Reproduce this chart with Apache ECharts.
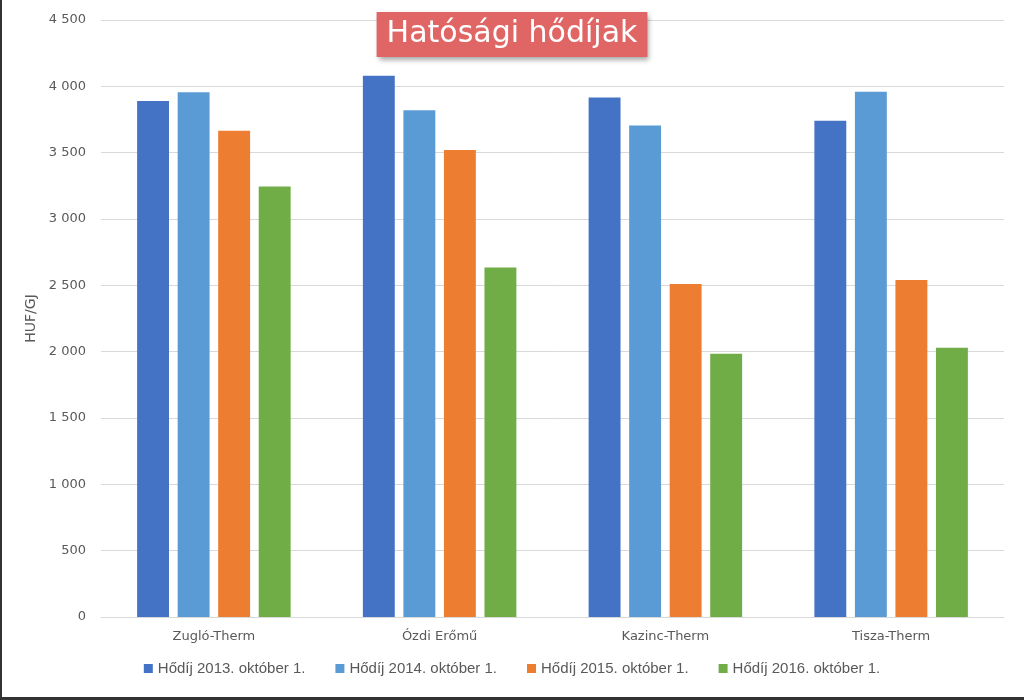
<!DOCTYPE html>
<html>
<head>
<meta charset="utf-8">
<script src="https://cdn.jsdelivr.net/npm/echarts@6/dist/echarts.min.js"></script>
<style>
html,body{margin:0;padding:0;background:#fff;}
#chart{width:1024px;height:700px;}
</style>
</head>
<body>
<div id="chart"></div>
<script>
const categories = ['Zugló-Therm', 'Ózdi Erőmű', 'Kazinc-Therm', 'Tisza-Therm'];
const seriesNames = ['Hődíj 2013. október 1.', 'Hődíj 2014. október 1.', 'Hődíj 2015. október 1.', 'Hődíj 2016. október 1.'];
const fee2013 = [3890, 4080, 3915, 3740];
const fee2014 = [3955, 3820, 3705, 3960];
const fee2015 = [3665, 3520, 2510, 2540];
const fee2016 = [3245, 2635, 1985, 2030];
const colors = ['#4472C4', '#5B9BD5', '#ED7D31', '#70AD47'];
const titleText = 'Hatósági hődíjak';
const yName = 'HUF/GJ';

const values = [fee2013, fee2014, fee2015, fee2016];
const chart = echarts.init(document.getElementById('chart'), null, {renderer: 'canvas'});
chart.setOption({
  backgroundColor: '#fff',
  animation: false,
  color: colors,
  title: {
    text: titleText,
    left: 'center',
    top: 12,
    padding: [7, 10, 8, 10],
    backgroundColor: '#E06666',
    shadowColor: 'rgba(0,0,0,0.35)',
    shadowBlur: 5,
    shadowOffsetX: 2,
    shadowOffsetY: 3,
    textStyle: {
      color: '#fff',
      fontFamily: 'DejaVu Sans',
      fontSize: 30,
      fontWeight: 'normal'
    }
  },
  legend: {
    bottom: 19,
    left: 'center',
    itemWidth: 9,
    itemHeight: 9,
    itemGap: 30,
    icon: 'rect',
    textStyle: {color: '#595959', fontFamily: 'Liberation Sans Narrow, Liberation Sans, sans-serif', fontSize: 15},
    data: seriesNames
  },
  grid: {left: 101, right: 20, top: 20, bottom: 83},
  xAxis: {
    type: 'category',
    data: categories,
    axisLine: {show: true, lineStyle: {color: '#D9D9D9'}},
    axisTick: {show: false},
    axisLabel: {color: '#595959', fontFamily: 'DejaVu Sans', fontSize: 13, margin: 13}
  },
  yAxis: {
    type: 'value',
    min: 0,
    max: 4500,
    interval: 500,
    name: yName,
    nameLocation: 'middle',
    nameGap: 57,
    nameTextStyle: {color: '#595959', fontFamily: 'DejaVu Sans', fontSize: 14},
    axisLine: {show: false},
    axisTick: {show: false},
    axisLabel: {
      color: '#595959', fontFamily: 'DejaVu Sans', fontSize: 13, margin: 15,
      formatter: v => String(v).replace(/\B(?=(\d{3})+(?!\d))/g, ' ')
    },
    splitLine: {lineStyle: {color: '#D9D9D9'}}
  },
  graphic: [
    {type: 'rect', shape: {x: 0, y: 0, width: 2, height: 700}, style: {fill: '#333'}},
    {type: 'rect', shape: {x: 0, y: 697, width: 1024, height: 3}, style: {fill: '#333'}}
  ],
  series: seriesNames.map((n, i) => ({
    name: n,
    type: 'bar',
    data: values[i],
    barGap: '27%',
    barCategoryGap: '32%',
    itemStyle: {color: colors[i]}
  }))
});
</script>
</body>
</html>
